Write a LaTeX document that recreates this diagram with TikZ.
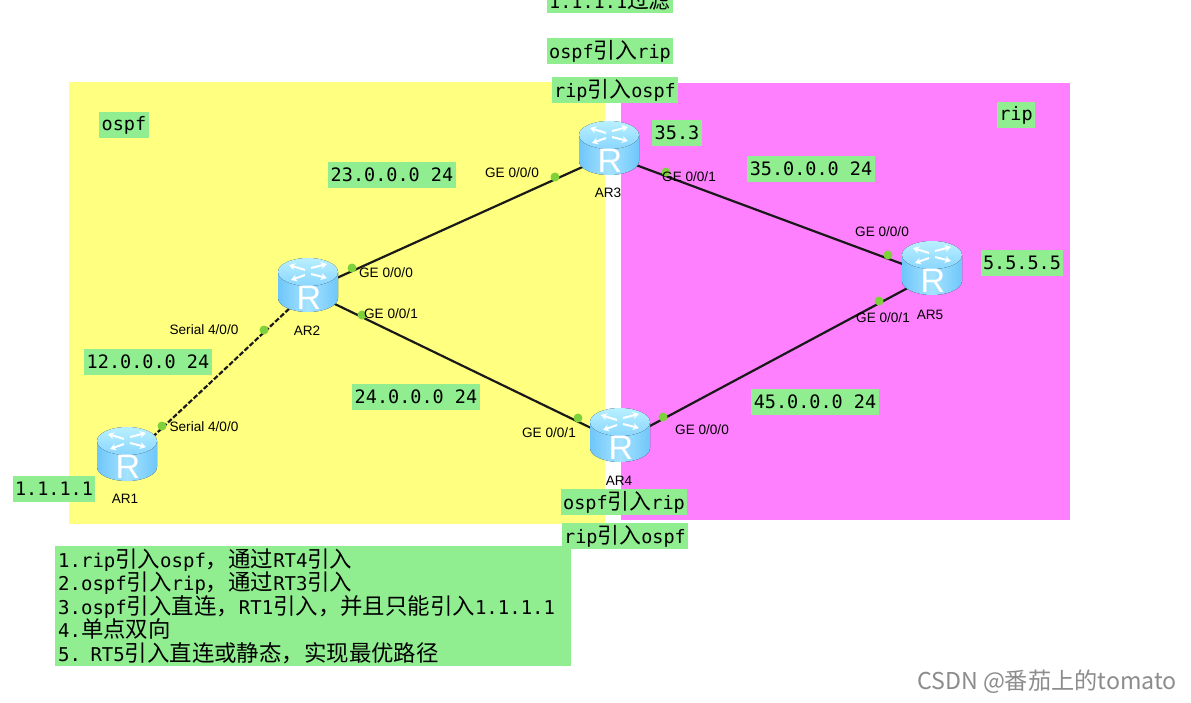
\documentclass[tikz,border=0pt]{standalone}
\usepackage{xcolor}
\usepackage{fontspec}
\setmainfont{Liberation Sans}
\setmonofont{DejaVu Sans Mono}
\newfontfamily\cjk[Scale=1.18]{Noto Sans CJK SC}
\newfontfamily\markfont{Noto Sans CJK SC}
\usetikzlibrary{arrows.meta}
\definecolor{areayellow}{HTML}{FFFF80}
\definecolor{areapink}{HTML}{FF80FF}
\definecolor{notegreen}{HTML}{90EE90}
\definecolor{dotgreen}{HTML}{7FD13B}
\definecolor{routerside}{HTML}{6FC6FA}
\definecolor{routermid}{HTML}{A5E3FF}
\definecolor{routertop}{HTML}{B8F0FF}
\definecolor{routerlow}{HTML}{8AD6FF}
\newcommand{\zh}[1]{{\cjk #1}}
\tikzset{
  greenbox/.style={fill=notegreen,inner xsep=2.5pt,inner ysep=0pt,minimum height=26pt,font=\fontsize{18.5}{22}\selectfont\ttfamily},
  portlabel/.style={inner sep=0pt,font=\fontsize{13.6}{15}\selectfont},
  portdot/.style={circle,fill=dotgreen,inner sep=0pt,minimum size=9pt},
  routerpoint/.style={inner sep=0pt,minimum size=0pt},
  link/.style={line width=2.2pt,black!90},
  routericon/.pic={
    \fill[left color=routerside,right color=routerside,middle color=routermid] (-30,-13)--(-30,13) arc[start angle=180,end angle=0,x radius=30,y radius=14]--(30,-13)--cycle;
    \fill[top color=routertop,bottom color=routerlow] (0,-13) ellipse[x radius=30,y radius=14];
    \foreach \a/\b/\c/\d in {-3/-15/-19/-20,3/-17/19/-21,-3/-10/-17/-5,3/-11/19/-7}
      \draw[white,line width=2pt,-{Stealth[length=6pt,width=7pt]}] (\a,\b)--(\c,\d);
    \node[white,inner sep=0pt,font=\fontsize{34}{34}\selectfont] at (1,13) {R};
  }
}
\begin{document}
\begin{tikzpicture}[x=1pt,y=-1pt]
\useasboundingbox (0,0) rectangle (1191,703);
\clip (0,0) rectangle (1191,703);
\fill[white] (0,0) rectangle (1191,703);
\fill[areayellow] (69,82) rectangle (605,524);
\fill[areapink] (621,83) rectangle (1070,520);
% router positions
\node[routerpoint] (AR1) at (127,461) {};
\node[routerpoint] (AR2) at (308,291) {};
\node[routerpoint] (AR3) at (609,155) {};
\node[routerpoint] (AR4) at (620,442) {};
\node[routerpoint] (AR5) at (932,275) {};
% links
\draw[link,dash pattern=on 5pt off 2pt] (AR1)--(AR2);
\draw[link] (AR2)--(AR3);
\draw[link] (AR2)--(AR4);
\draw[link] (AR3)--(AR5);
\draw[link] (AR4)--(AR5);
% routers
\pic at (127,454) {routericon};
\pic at (308,285) {routericon};
\pic at (609,148) {routericon};
\pic at (620,435) {routericon};
\pic at (932,268) {routericon};
\node[portlabel] (nameAR1) at (125,499) {AR1};
\node[portlabel] (nameAR2) at (307,331) {AR2};
\node[portlabel] (nameAR3) at (608,193) {AR3};
\node[portlabel] (nameAR4) at (619,481) {AR4};
\node[portlabel] (nameAR5) at (930,315) {AR5};
% interface dots
\node[portdot] (dotA) at (162,426) {};
\node[portdot] (dotB) at (264,330) {};
\node[portdot] (dotC) at (352,268) {};
\node[portdot] (dotD) at (362,315) {};
\node[portdot] (dotE) at (555,177) {};
\node[portdot] (dotF) at (666,172) {};
\node[portdot] (dotG) at (578,418) {};
\node[portdot] (dotH) at (663,417) {};
\node[portdot] (dotI) at (888,255) {};
\node[portdot] (dotJ) at (879,301) {};
% interface labels
\node[portlabel] (portA) at (204,427) {Serial 4/0/0};
\node[portlabel] (portB) at (204,330) {Serial 4/0/0};
\node[portlabel] (portC) at (386,273) {GE 0/0/0};
\node[portlabel] (portD) at (391,314) {GE 0/0/1};
\node[portlabel] (portE) at (512,173) {GE 0/0/0};
\node[portlabel] (portF) at (689,177) {GE 0/0/1};
\node[portlabel] (portG) at (549,433) {GE 0/0/1};
\node[portlabel] (portH) at (702,430) {GE 0/0/0};
\node[portlabel] (portI) at (882,232) {GE 0/0/0};
\node[portlabel] (portJ) at (883,318) {GE 0/0/1};
% green notes
\node[greenbox] (ospfnote) at (124,125) {ospf};
\node[greenbox] (ripnote) at (1016,115) {rip};
\node[greenbox] (net23) at (392,175) {23.0.0.0 24};
\node[greenbox] (net35) at (811,169) {35.0.0.0 24};
\node[greenbox] (net12) at (148,362) {12.0.0.0 24};
\node[greenbox] (net24) at (416,397) {24.0.0.0 24};
\node[greenbox] (net45) at (815,402) {45.0.0.0 24};
\node[greenbox] (addr35) at (677,133) {35.3};
\node[greenbox] (addr5) at (1022,263) {5.5.5.5};
\node[greenbox] (addr1) at (54,489) {1.1.1.1};
\node[greenbox] (filter) at (610,0) {1.1.1.1\zh{过滤}};
\node[greenbox] (topa) at (610,51) {ospf\zh{引入}rip};
\node[greenbox] (topb) at (615,90) {rip\zh{引入}ospf};
\node[greenbox] (lowa) at (624,502) {ospf\zh{引入}rip};
\node[greenbox] (lowb) at (625,536) {rip\zh{引入}ospf};
\node[fill=notegreen,anchor=north west,inner xsep=3pt,inner ysep=0pt,text width=510pt,minimum height=120pt,align=left,font=\fontsize{19}{23.5}\selectfont\ttfamily] (steps) at (55,546) {%
1.rip\zh{引入}ospf\zh{，通过}RT4\zh{引入}\\
2.ospf\zh{引入}rip\zh{，通过}RT3\zh{引入}\\
3.ospf\zh{引入直连，}RT1\zh{引入，并且只能引入}1.1.1.1\\
4.\zh{单点双向}\\
5. RT5\zh{引入直连或静态，实现最优路径}};
% watermark
\node[inner sep=0pt,text=black!45,font=\fontsize{23.2}{25}\selectfont\markfont] (mark) at (1047,682) {CSDN @番茄上的tomato};
\end{tikzpicture}
\end{document}
